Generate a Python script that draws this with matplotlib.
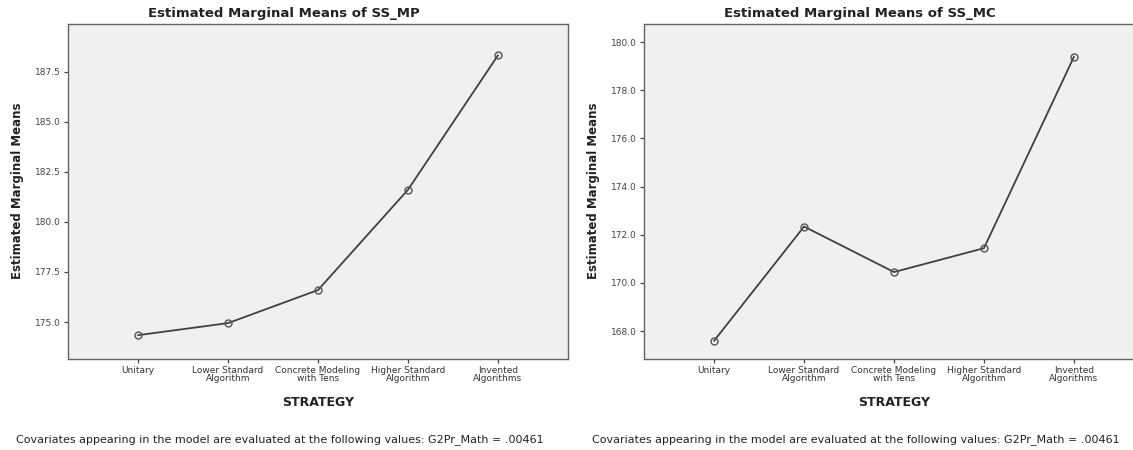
import matplotlib
matplotlib.use("Agg")
import matplotlib.pyplot as plt

strategies = ["Unitary", "Lower Standard\nAlgorithm", "Concrete Modeling\nwith Tens",
              "Higher Standard\nAlgorithm", "Invented\nAlgorithms"]
ss_mp = [174.35, 174.95, 176.6, 181.6, 188.3]
ss_mc = [167.6, 172.34, 170.45, 171.44, 179.38]

mp_ticks = [175.0, 177.5, 180.0, 182.5, 185.0, 187.5]
mc_ticks = [168.0, 170.0, 172.0, 174.0, 176.0, 178.0, 180.0]

W, H = 1133, 450
fig = plt.figure(figsize=(W / 100, H / 100), dpi=100)
fig.patch.set_facecolor("white")
plt.rcParams["font.family"] = ["DejaVu Sans"]


def panel(off, vals, ticks, ylim, title):
    # chart block is 576 px wide, axes spans 68..568 inside it
    ax = fig.add_axes([(off + 68) / W, 1 - 359 / H, 500 / W, 335 / H])
    ax.set_facecolor("#f0f0f0")
    x = list(range(1, len(vals) + 1))
    ax.plot(x, vals, color="#404040", lw=1.3, marker="o", ms=5,
            mfc="none", mec="#555555", mew=1.0)
    ax.set_xlim(0.22, 5.78)
    ax.set_ylim(*ylim)
    ax.set_yticks(ticks)
    ax.set_yticklabels(["%.1f" % t for t in ticks], fontsize=6.5, color="#4a4050")
    ax.set_xticks(x)
    ax.set_xticklabels(strategies, fontsize=6.5, color="#333333", linespacing=0.85)
    ax.tick_params(axis="both", direction="out", length=3, width=0.9, color="#444444", pad=2)
    for s in ax.spines.values():
        s.set_color("#666666")
        s.set_linewidth(1.0)
    fig.text((off + 284) / W, 1 - 13 / H, title, ha="center", va="center",
             fontsize=9.5, fontweight="bold", color="#222222")
    fig.text((off + 18) / W, 1 - 191 / H, "Estimated Marginal Means", rotation=90,
             ha="center", va="center", fontsize=8.5, fontweight="bold", color="#222222")
    fig.text((off + 318) / W, 1 - 402 / H, "STRATEGY", ha="center", va="center",
             fontsize=9, fontweight="bold", color="#222222")
    fig.text((off + 280) / W, 1 - 440 / H,
             "Covariates appearing in the model are evaluated at the following values: G2Pr_Math = .00461",
             ha="center", va="center", fontsize=8, color="#222222")
    return ax


panel(0, ss_mp, mp_ticks, (173.16, 189.87), "Estimated Marginal Means of SS_MP")
panel(576, ss_mc, mc_ticks, (166.84, 180.75), "Estimated Marginal Means of SS_MC")

fig.savefig("out.png", dpi=100)
